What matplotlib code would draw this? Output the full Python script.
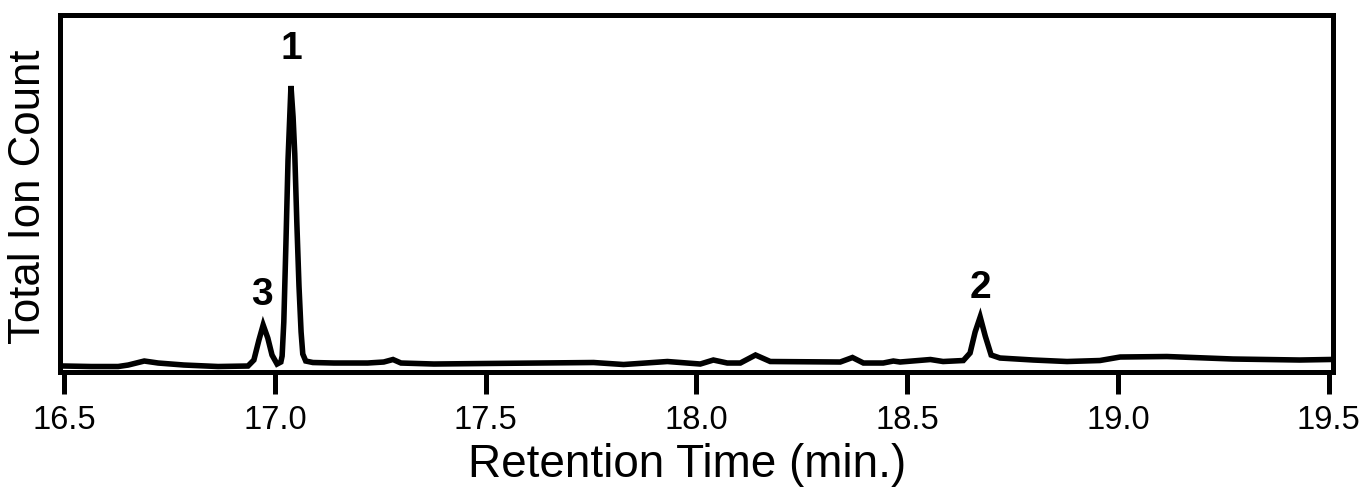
import numpy as np
import matplotlib
matplotlib.use("Agg")
import matplotlib.pyplot as plt

plt.rcParams['font.family'] = ['Liberation Sans', 'DejaVu Sans']

# retention time (min) and total ion count (arbitrary units)
rt = [16.500, 16.564, 16.628, 16.652, 16.690, 16.723, 16.784, 16.865, 16.936,
      16.950, 16.962, 16.972, 16.983, 16.993, 17.005, 17.014, 17.017, 17.021,
      17.026, 17.031, 17.038, 17.043, 17.047, 17.052, 17.057, 17.062, 17.066,
      17.073, 17.090, 17.140, 17.220, 17.258, 17.280, 17.299, 17.377, 17.495,
      17.756, 17.827, 17.931, 18.009, 18.040, 18.073, 18.104, 18.140, 18.175,
      18.341, 18.370, 18.396, 18.443, 18.467, 18.483, 18.555, 18.585, 18.633,
      18.649, 18.661, 18.673, 18.685, 18.699, 18.720, 18.799, 18.879, 18.957,
      19.005, 19.116, 19.273, 19.431, 19.500]
tic = [6, 5.5, 5.5, 7, 11, 9, 7, 5.5, 6,
       12, 32, 47, 34, 17, 8, 10, 16, 50,
       128, 212, 286, 255, 218, 148, 86, 40, 18,
       11, 9.5, 9, 9, 10, 12.5, 9, 8, 8.5,
       9.5, 7.5, 10.5, 8, 12, 9, 9, 17, 10.5,
       10, 14.5, 9, 9, 11, 10, 12.5, 10.5, 11.5,
       19, 40, 55, 36, 17, 14, 12, 10.5, 11.5,
       15, 15.5, 13, 12, 12.5]

# peak labels
peak_ids = ['1', '2', '3']
peak_rt = [17.040, 18.673, 16.970]
label_y = [323, 84, 77]

fig = plt.figure(figsize=(13.63, 4.93), dpi=100)
ax = fig.add_axes([0.044, 0.2454, 0.934, 0.7242])

ax.plot(rt, tic, color='black', linewidth=4.0, solid_joinstyle='miter')
for pid, x, y in zip(peak_ids, peak_rt, label_y):
    ax.text(x, y, pid, ha='center', va='center', fontsize=28, fontweight='bold')

ax.set_xlim(16.49, 19.51)
ax.set_ylim(0, 357)
ax.set_xticks([16.5, 17.0, 17.5, 18.0, 18.5, 19.0, 19.5])
ax.set_xticklabels(['16.5', '17.0', '17.5', '18.0', '18.5', '19.0', '19.5'])
ax.set_yticks([])
ax.tick_params(axis='x', direction='out', length=16, width=3.6, labelsize=23.5, pad=8)
for s in ax.spines.values():
    s.set_linewidth(3.6)

ax.set_xlabel('Retention Time (min.)', fontsize=33)
ax.set_ylabel('Total Ion Count', fontsize=31.5)
ax.xaxis.set_label_coords(0.493, -0.26)
ax.xaxis.label.set_va('center')
ax.yaxis.set_label_coords(-0.0244, 0.49)
ax.yaxis.label.set_va('center')

fig.savefig('out.png', dpi=100)
